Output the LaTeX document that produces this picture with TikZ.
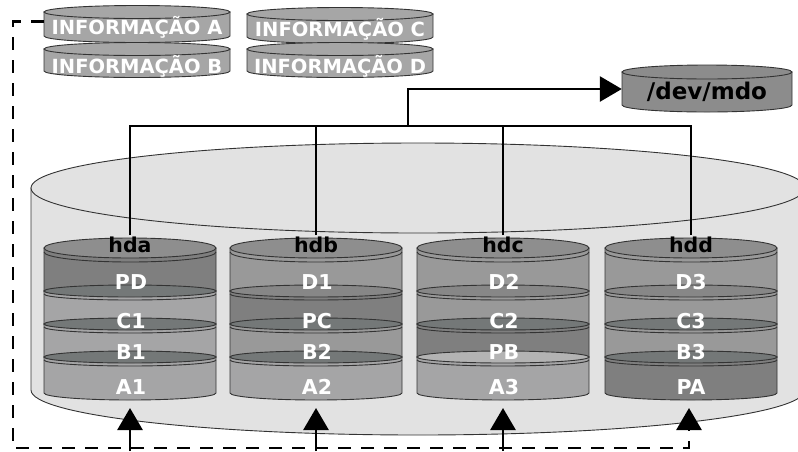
\documentclass[tikz,border=0pt]{standalone}
\usepackage{fontspec}
\setmainfont{DejaVu Sans}
\usetikzlibrary{arrows.meta,positioning}
\definecolor{Shell}{HTML}{E2E2E2}
\definecolor{Rim}{HTML}{333333}
\definecolor{InfoGray}{HTML}{A6A6A6}
\definecolor{VolGray}{HTML}{8C8C8C}
\definecolor{TopGray}{HTML}{8E8E8E}
\definecolor{ParGray}{HTML}{7F7F7F}
\definecolor{MidGray}{HTML}{999999}
\definecolor{PaleGray}{HTML}{A5A5A6}
\definecolor{SepGray}{HTML}{747878}
\definecolor{SepMid}{HTML}{878787}
\definecolor{SepPale}{HTML}{B3B3B3}
\tikzset{
  outline/.style={draw=Rim, line width=0.9pt},
  wire/.style={line width=2.8pt, draw=black},
  feed/.style={wire, -{Triangle[length=22pt, width=25pt]}},
  loopback/.style={feed, dash pattern=on 13pt off 10pt},
  infolabel/.style={font=\bfseries\fontsize{19.5}{19.5}\selectfont, text=white, inner sep=0pt, minimum width=186pt, anchor=base},
  mdolabel/.style={font=\bfseries\fontsize{23}{23}\selectfont, text=black, inner sep=0pt, minimum width=170pt, text height=22pt, text depth=2pt},
  disklabel/.style={font=\bfseries\fontsize{20.5}{20.5}\selectfont, text=black, inner sep=1pt, anchor=base},
  layerlabel/.style={font=\bfseries\fontsize{20.5}{20.5}\selectfont, text=white, inner sep=0pt, anchor=base}
}

% platter: x, face y, bottom y, x radius, face y radius, bottom y radius, body colour, face colour
\newcommand\platter[8]{%
  \filldraw[outline, fill=#7] (#1-#4,#2) -- (#1-#4,#3) arc[start angle=180, end angle=0, x radius=#4, y radius=#6] -- (#1+#4,#2) -- cycle;
  \filldraw[outline, fill=#8] (#1,#2) ellipse[x radius=#4, y radius=#5];
}
% second edge line under a platter face
\newcommand\rimline[4]{%
  \draw[outline] (#1-#3,#2) arc[start angle=180, end angle=0, x radius=#3, y radius=#4];
}
% one drive: x, four body colours top to bottom, faces of layers 2-4
\newcommand\drive[8]{%
  \platter{#1}{248}{291}{86}{10}{6}{#2}{TopGray}
  \rimline{#1}{252}{86}{10}
  \platter{#1}{291}{324}{86}{6}{6}{#3}{#6}
  \rimline{#1}{294}{86}{6}
  \platter{#1}{324}{357}{86}{6}{6}{#4}{#7}
  \rimline{#1}{327}{86}{6}
  \platter{#1}{357}{393}{86}{6}{7}{#5}{#8}
  \rimline{#1}{360}{86}{6}
}

\begin{document}
\begin{tikzpicture}[x=1pt, y=-1pt]
  \useasboundingbox (0,0) rectangle (798,451);
  \clip (0,0) rectangle (798,451);

  % enclosure
  \platter{418}{188}{390}{387}{45}{45}{Shell}{Shell}

  % information blocks
  \platter{137}{12}{36}{93}{6.5}{6.5}{InfoGray}{InfoGray}
  \platter{340}{14}{37}{93}{6.5}{6.5}{InfoGray}{InfoGray}
  \platter{137}{49}{71}{93}{6.5}{6.5}{InfoGray}{InfoGray}
  \platter{340}{49}{71}{93}{6.5}{6.5}{InfoGray}{InfoGray}

  % array device
  \platter{707}{72}{105}{85}{7}{7}{VolGray}{VolGray}

  % member drives
  \drive{130}{ParGray}{PaleGray}{PaleGray}{PaleGray}{SepGray}{SepGray}{SepGray}
  \drive{316}{MidGray}{ParGray}{MidGray}{PaleGray}{SepMid}{SepGray}{SepGray}
  \drive{503}{MidGray}{MidGray}{ParGray}{PaleGray}{SepMid}{SepGray}{SepPale}
  \drive{691}{MidGray}{MidGray}{MidGray}{ParGray}{SepMid}{SepGray}{SepGray}

  \node[infolabel] (infoA) at (137,34) {INFORMAÇÃO A};
  \node[infolabel] (infoB) at (137,73) {INFORMAÇÃO B};
  \node[infolabel] (infoC) at (340,36) {INFORMAÇÃO C};
  \node[infolabel] (infoD) at (340,73) {INFORMAÇÃO D};
  \node[mdolabel] (mdo) at (707,89) {/dev/mdo};

  \node[disklabel] (hda) at (130,252) {hda};
  \node[disklabel] (hdb) at (316,252) {hdb};
  \node[disklabel] (hdc) at (503,252) {hdc};
  \node[disklabel] (hdd) at (691,252) {hdd};

  \node[layerlabel] (pd) at (131,289) {PD};
  \node[layerlabel] (c1) at (131,328) {C1};
  \node[layerlabel] (b1) at (131,359) {B1};
  \node[layerlabel] (a1) at (131,394) {A1};
  \node[layerlabel] (d1) at (317,289) {D1};
  \node[layerlabel] (pc) at (317,328) {PC};
  \node[layerlabel] (b2) at (317,359) {B2};
  \node[layerlabel] (a2) at (317,394) {A2};
  \node[layerlabel] (d2) at (504,289) {D2};
  \node[layerlabel] (c2) at (504,328) {C2};
  \node[layerlabel] (pb) at (504,359) {PB};
  \node[layerlabel] (a3) at (504,394) {A3};
  \node[layerlabel] (d3) at (691,289) {D3};
  \node[layerlabel] (c3) at (691,328) {C3};
  \node[layerlabel] (b3) at (691,359) {B3};
  \node[layerlabel] (pa) at (691,394) {PA};

  % bus to the array device
  \coordinate (tap) at (408,126);
  \draw[wire] (hda.north) |- (tap) -| (hdd.north);
  \draw[wire] (hdb.north) -- (hdb.north |- tap);
  \draw[wire] (hdc.north) -- (hdc.north |- tap);
  \draw[feed] (tap) |- (mdo);

  % writes coming in from below
  \coordinate (inA) at (130,451);
  \coordinate (inB) at (316,451);
  \coordinate (inC) at (503,451);
  \coordinate (baseA) at (130,408);
  \coordinate (baseB) at (316,408);
  \coordinate (baseC) at (503,408);
  \coordinate (baseD) at (689,408);
  \draw[feed] (inA) -- (baseA);
  \draw[feed] (inB) -- (baseB);
  \draw[feed] (inC) -- (baseC);

  % parity path
  \coordinate (corner) at (13,448);
  \draw[loopback] ([yshift=5pt]infoA.west) -| (corner) -| (baseD);
\end{tikzpicture}
\end{document}
